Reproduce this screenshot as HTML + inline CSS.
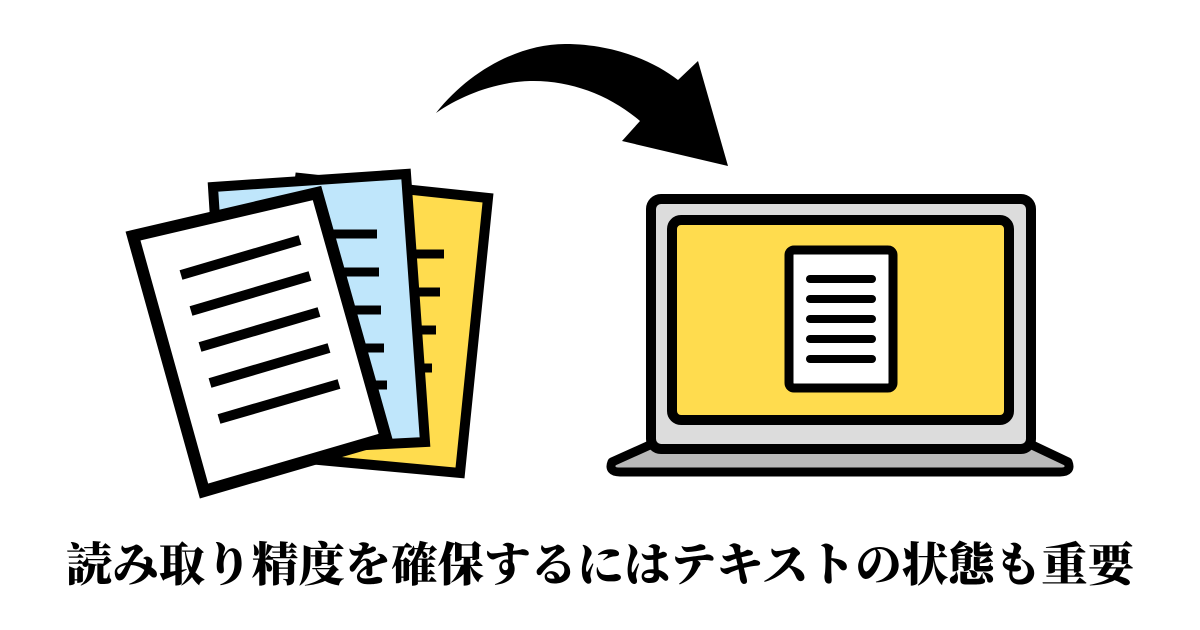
<!DOCTYPE html>
<html><head><meta charset="utf-8"><style>
html,body{margin:0;padding:0;background:#fff;}
body{width:1200px;height:630px;position:relative;overflow:hidden;}
.t{position:absolute;left:0;width:1200px;top:535px;text-align:center;font-family:"Liberation Serif","Noto Serif CJK SC","Noto Serif CJK JP",serif;font-weight:900;font-size:46.5px;line-height:64px;color:#000;white-space:nowrap;}
</style></head><body>
<svg width="1200" height="630" style="position:absolute;left:0;top:0">
<path d="M436,113 C470,70 520,44 565,44 C615,44 655,62 678,80 L698,61 L728,166 L622,141 L640,121 C610,95 570,80 530,81 C495,82 460,96 436,113 Z" fill="#000"/>
<polygon points="300,178 488,198 460,473 265,455" fill="#ffdc4e" stroke="#000" stroke-width="10" stroke-linejoin="miter"/>
<g stroke="#000" stroke-width="9">
<line x1="410" y1="254" x2="444" y2="254"/><line x1="410" y1="292" x2="440" y2="292"/><line x1="410" y1="330" x2="436" y2="330"/><line x1="410" y1="368" x2="432" y2="368"/>
</g>
<polygon points="213,187 406,174 425,442 230,452" fill="#bfe6fb" stroke="#000" stroke-width="10"/>
<g stroke="#000" stroke-width="9">
<line x1="330" y1="234" x2="377" y2="234"/><line x1="330" y1="272" x2="379" y2="272"/><line x1="330" y1="310" x2="381" y2="310"/><line x1="330" y1="348" x2="384" y2="348"/><line x1="330" y1="385" x2="387" y2="385"/>
</g>
<polygon points="133,236 317,193 386,438 204,491" fill="#fff" stroke="#000" stroke-width="12"/>
<g stroke="#000" stroke-width="10">
<line x1="181" y1="275" x2="300" y2="240"/><line x1="191" y1="311" x2="310" y2="276"/><line x1="200" y1="347" x2="319" y2="312"/><line x1="210" y1="383" x2="329" y2="348"/><line x1="219" y1="419" x2="339" y2="384"/>
</g>
<path d="M652,444 L1030,444 L1068,462 Q1072,472 1060,472 L620,472 Q608,472 612,462 Z" fill="#b9b9b9" stroke="#000" stroke-width="9" stroke-linejoin="round"/>
<rect x="651" y="199" width="380" height="250" rx="10" fill="#dcdcdc" stroke="#000" stroke-width="10"/>
<rect x="672" y="220" width="337" height="200" rx="9" fill="#ffdc4e" stroke="#000" stroke-width="10"/>
<rect x="789" y="250" width="104" height="138" rx="5" fill="#fff" stroke="#000" stroke-width="9"/>
<g stroke="#000" stroke-width="8" stroke-linecap="round">
<line x1="810" y1="279" x2="872" y2="279"/><line x1="810" y1="299" x2="872" y2="299"/><line x1="810" y1="319" x2="872" y2="319"/><line x1="810" y1="339" x2="872" y2="339"/><line x1="810" y1="359" x2="872" y2="359"/>
</g>
</svg>
<div class="t">読み取り精度を確保するにはテキストの状態も重要</div>
</body></html>
